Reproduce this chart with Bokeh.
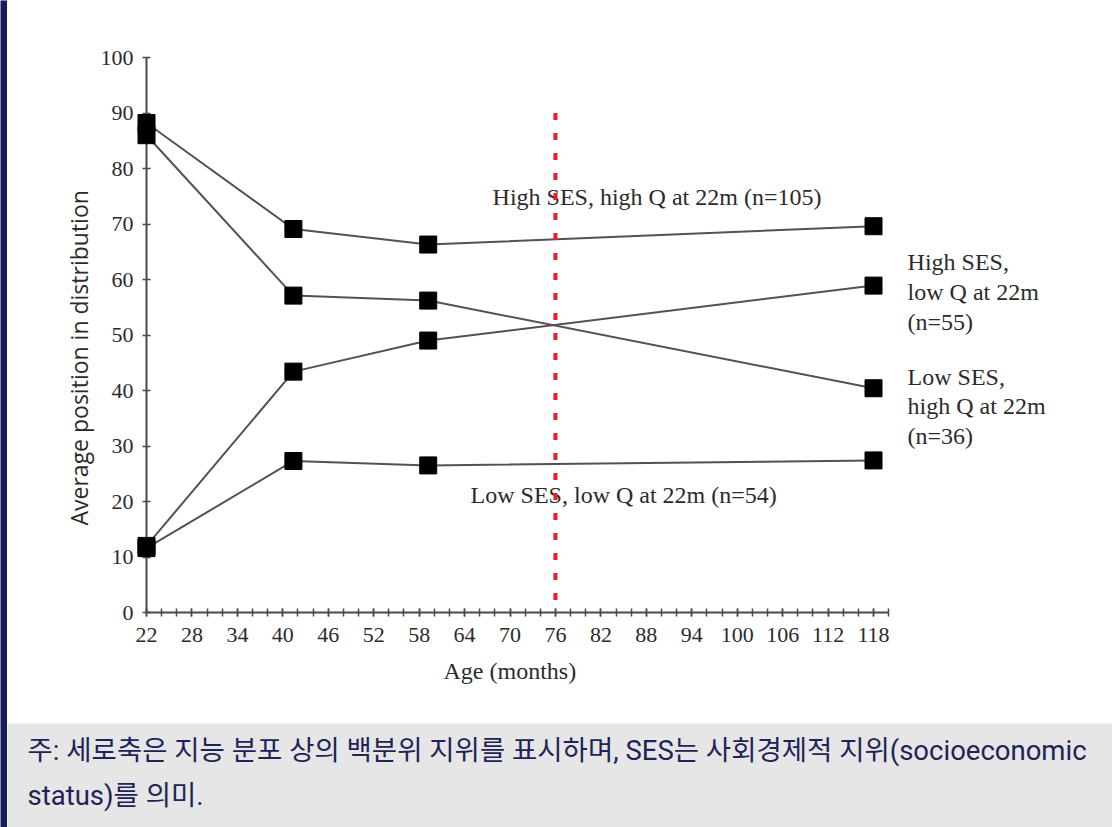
from bokeh.plotting import figure
from bokeh.models import Range1d, FixedTicker, Label, Title
from bokeh.layouts import column, row
from bokeh.embed import file_html
from bokeh.resources import INLINE

# ---------------- data ----------------
ages = [22, 41.4, 59.2, 118]
high_ses_high_q = [88.2, 69.1, 66.3, 69.6]
high_ses_low_q = [12.0, 43.4, 49.0, 58.9]
low_ses_high_q = [86.0, 57.1, 56.2, 40.4]
low_ses_low_q = [11.6, 27.3, 26.5, 27.4]

x_major_ticks = list(range(22, 119, 6))
x_minor_ticks = list(range(22, 121, 2))
y_ticks = list(range(0, 101, 10))

cutoff_age = 76
cutoff_top = 90

x_title = "Age (months)"
y_title = "Average position in distribution"
label_hh = ["High SES, high Q at 22m (n=105)"]
label_ll = ["Low SES, low Q at 22m (n=54)"]
label_hl = ["High SES,", "low Q at 22m", "(n=55)"]
label_lh = ["Low SES,", "high Q at 22m", "(n=36)"]
caption_lines = [
    "주: 세로축은 지능 분포 상의 백분위 지위를 표시하며, SES는  사회경제적 지위(socioeconomic",
    "status)를 의미.",
]

# ---------------- styles ----------------
SERIF = "Liberation Serif"
TXT = "#2b2b2b"
LINE = "#525252"
AXIS = "#4a4a4a"
NAVY = "#161d5b"

NAV_L = 7
NAV_T = 5
W = 1112 - NAV_L
H_CHART = 718
H_CAP = 827 - NAV_T - H_CHART

# page mapping: x 22 -> 146 px, 7.573 px/month ; y 0 -> 612 px, 5.55 px/unit
sx = 7.573
sy = 5.55
left_b = 146 - NAV_L
x1 = 22 + (1112 - 146) / sx
y1 = 100 + (57 - NAV_T) / sy
bottom_b = (NAV_T + H_CHART) - 612


def no_align(fig):
    if "frame_align" in fig.properties():
        fig.frame_align = False


p = figure(width=W, height=H_CHART, output_backend="svg", toolbar_location=None,
           x_range=Range1d(22, x1), y_range=Range1d(0, y1),
           min_border_left=left_b, min_border_right=0, min_border_top=0,
           min_border_bottom=bottom_b)
no_align(p)
p.outline_line_color = None
p.grid.visible = False
p.background_fill_color = "white"
p.border_fill_color = "white"

# axes
xa = p.xaxis[0]
ya = p.yaxis[0]
xa.bounds = (22, 120)
ya.bounds = (0, 100)
xa.ticker = FixedTicker(ticks=x_major_ticks, minor_ticks=x_minor_ticks)
ya.ticker = FixedTicker(ticks=y_ticks, minor_ticks=[])
for ax in (xa, ya):
    ax.axis_line_color = AXIS
    ax.axis_line_width = 2
    ax.major_tick_line_color = AXIS
    ax.major_tick_line_width = 1.5
    ax.major_tick_in = 4
    ax.major_tick_out = 4
    ax.minor_tick_line_color = AXIS
    ax.minor_tick_line_width = 1.5
    ax.minor_tick_in = 4
    ax.minor_tick_out = 4
    ax.major_label_text_font = SERIF
    ax.major_label_text_font_size = "22px"
    ax.major_label_text_color = TXT
xa.major_label_standoff = 11
ya.major_label_standoff = 9


def title(text, side, offset, standoff, font, size):
    t = Title(text=text, align="left", offset=offset, text_font=font,
              text_font_size=size, text_font_style="normal", text_color=TXT)
    if "standoff" in t.properties():
        t.standoff = standoff
    p.add_layout(t, side)


# axis titles (placed along the axes, not centred on the frame)
title(x_title, "below", 297, 23, SERIF, "24px")
title(y_title, "left", 87, 5, "Open Sans", "23px")

# series
for ys in (high_ses_high_q, high_ses_low_q, low_ses_high_q, low_ses_low_q):
    p.line(ages, ys, line_color=LINE, line_width=2)
for ys in (high_ses_high_q, high_ses_low_q, low_ses_high_q, low_ses_low_q):
    p.scatter(ages, ys, marker="square", size=17, fill_color="black", line_color="black",
              level="overlay")


def lab(x, y, t, size="24px", font=SERIF, align="left"):
    p.add_layout(Label(x=x, y=y, text=t, text_font=font, text_font_size=size,
                       text_color=TXT, text_align=align, text_baseline="middle"))


lab(67.7, 74.8, label_hh[0])
lab(64.8, 21.1, label_ll[0])
for i, t in enumerate(label_hl):
    lab(122.5, 63.1 - i * 5.35, t)
for i, t in enumerate(label_lh):
    lab(122.5, 42.5 - i * 5.35, t)

# cutoff line (drawn from the top so that a dash starts there)
p.line([cutoff_age, cutoff_age], [cutoff_top, 0], line_color="#ee1c25", line_width=4,
       line_dash="7 13", level="overlay")

# ---------------- caption ----------------
c = figure(width=W, height=H_CAP, output_backend="svg", toolbar_location=None,
           x_range=Range1d(0, W), y_range=Range1d(H_CAP, 0),
           x_axis_location=None, y_axis_location=None, min_border=0)
no_align(c)
c.outline_line_color = None
c.grid.visible = False
c.background_fill_color = "#e6e6e6"
c.border_fill_color = "#e6e6e6"
for i, t in enumerate(caption_lines):
    c.add_layout(Label(x=20, y=27 + i * 45, text=t, text_font="Roboto, 'Noto Sans CJK KR'",
                       text_font_size="27.5px", text_color="#1f2456",
                       text_align="left", text_baseline="middle"))


# ---------------- navy frame strips ----------------
def strip(w, h):
    s = figure(width=w, height=h, output_backend="svg", toolbar_location=None,
               x_axis_location=None, y_axis_location=None, min_border=0)
    no_align(s)
    s.outline_line_color = None
    s.grid.visible = False
    s.background_fill_color = NAVY
    s.border_fill_color = NAVY
    return s


nav_left = strip(NAV_L, 827)
nav_top = strip(W, NAV_T)

layout = row(nav_left, column(nav_top, p, c, spacing=0), spacing=0)
open("out.html", "w").write(file_html(layout, INLINE))
